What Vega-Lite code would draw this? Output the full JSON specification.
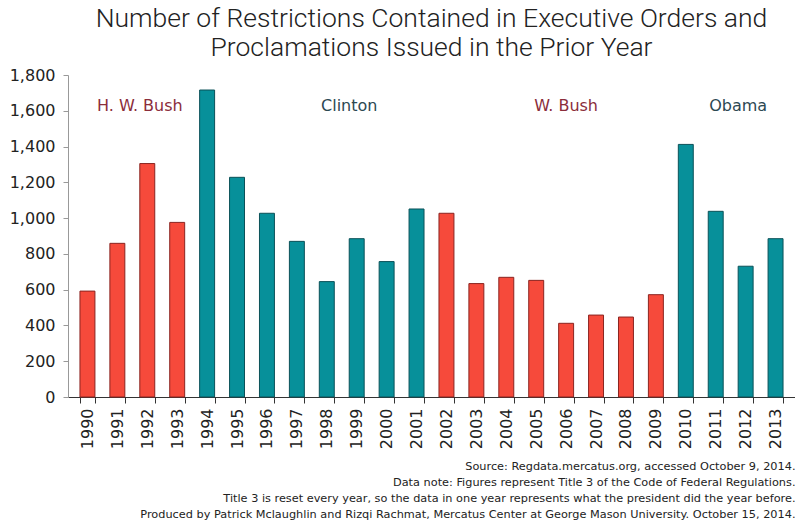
{
  "$schema": "https://vega.github.io/schema/vega-lite/v6.json",
  "width": 727,
  "height": 322,
  "autosize": {"type": "none"},
  "padding": {"left": 68, "top": 75, "right": 0, "bottom": 125},
  "background": "white",
  "title": {
    "text": ["Number of Restrictions Contained in Executive Orders and", "Proclamations Issued in the Prior Year"],
    "font": "Roboto",
    "fontWeight": 300,
    "fontSize": 26.5,
    "lineHeight": 29,
    "color": "#222222",
    "anchor": "middle",
    "offset": 6
  },
  "config": {
    "view": {"stroke": null},
    "axisX": {
      "labelAngle": -90,
      "labelFont": "DejaVu Sans",
      "labelFontSize": 16,
      "labelColor": "#222222",
      "labelPadding": 5,
      "labelOverlap": false,
      "tickBand": "extent",
      "tickSize": 6,
      "tickColor": "#333333",
      "domainColor": "#333333",
      "titleFont": "DejaVu Sans",
      "titleFontSize": 11.3,
      "titleFontWeight": "normal",
      "titleColor": "#222222",
      "titleLineHeight": 16,
      "titleAnchor": "end",
      "titleAlign": "right",
      "titlePadding": 12
    },
    "axisY": {
      "labelOverlap": false,
      "labelFlush": false,
      "grid": false,
      "labelFont": "DejaVu Sans",
      "labelFontSize": 16,
      "labelColor": "#222222",
      "labelPadding": 8,
      "tickSize": 5,
      "tickColor": "#999999",
      "domainColor": "#999999"
    }
  },
  "data": {
    "values": [
      {"year": "1990", "value": 592, "party": "R"},
      {"year": "1991", "value": 859, "party": "R"},
      {"year": "1992", "value": 1305, "party": "R"},
      {"year": "1993", "value": 976, "party": "R"},
      {"year": "1994", "value": 1716, "party": "D"},
      {"year": "1995", "value": 1228, "party": "D"},
      {"year": "1996", "value": 1027, "party": "D"},
      {"year": "1997", "value": 870, "party": "D"},
      {"year": "1998", "value": 645, "party": "D"},
      {"year": "1999", "value": 885, "party": "D"},
      {"year": "2000", "value": 757, "party": "D"},
      {"year": "2001", "value": 1051, "party": "D"},
      {"year": "2002", "value": 1027, "party": "R"},
      {"year": "2003", "value": 634, "party": "R"},
      {"year": "2004", "value": 669, "party": "R"},
      {"year": "2005", "value": 652, "party": "R"},
      {"year": "2006", "value": 412, "party": "R"},
      {"year": "2007", "value": 458, "party": "R"},
      {"year": "2008", "value": 447, "party": "R"},
      {"year": "2009", "value": 572, "party": "R"},
      {"year": "2010", "value": 1412, "party": "D"},
      {"year": "2011", "value": 1038, "party": "D"},
      {"year": "2012", "value": 731, "party": "D"},
      {"year": "2013", "value": 885, "party": "D"}
    ]
  },
  "encoding": {
    "y": {
      "field": "value",
      "type": "quantitative",
      "scale": {"domain": [0, 1800], "nice": false},
      "axis": {
        "values": [0, 200, 400, 600, 800, 1000, 1200, 1400, 1600, 1800],
        "format": ",d",
        "title": null
      }
    }
  },
  "layer": [
    {
      "mark": {"type": "bar", "strokeWidth": 1},
      "encoding": {
        "x": {
          "field": "year",
          "type": "ordinal",
          "scale": {"paddingInner": 0.5, "paddingOuter": 0.4},
          "axis": {
            "title": [
              "Source: Regdata.mercatus.org, accessed October 9, 2014.",
              "Data note: Figures represent Title 3 of the Code of Federal Regulations.",
              "Title 3 is reset every year, so the data in one year represents what the president did the year before.",
              "Produced by Patrick Mclaughlin and Rizqi Rachmat, Mercatus Center at George Mason University. October 15, 2014."
            ]
          }
        },
        "color": {
          "field": "party",
          "type": "nominal",
          "scale": {"domain": ["R", "D"], "range": ["#f64a3b", "#07909a"]},
          "legend": null
        },
        "stroke": {
          "field": "party",
          "type": "nominal",
          "scale": {"domain": ["R", "D"], "range": ["#8a2420", "#0b5158"]},
          "legend": null
        }
      }
    },
    {
      "data": {
        "values": [
          {"year": "1992", "label": "H. W. Bush", "value": 1625, "party": "R"},
          {"year": "1999", "label": "Clinton", "value": 1625, "party": "D"},
          {"year": "2012", "label": "Obama", "value": 1625, "party": "D"}
        ]
      },
      "mark": {"type": "text", "font": "DejaVu Sans", "fontSize": 16, "align": "center", "baseline": "middle"},
      "encoding": {
        "x": {"field": "year", "type": "ordinal", "bandPosition": 0},
        "text": {"field": "label"},
        "fill": {
          "field": "party",
          "type": "nominal",
          "scale": {"domain": ["R", "D"], "range": ["#8b2d3b", "#2c4852"]},
          "legend": null
        }
      }
    },
    {
      "data": {
        "values": [
          {"year": "2006", "label": "W. Bush", "value": 1625, "party": "R"}
        ]
      },
      "mark": {"type": "text", "font": "DejaVu Sans", "fontSize": 16, "align": "center", "baseline": "middle"},
      "encoding": {
        "x": {"field": "year", "type": "ordinal", "bandPosition": 0.5},
        "text": {"field": "label"},
        "fill": {
          "field": "party",
          "type": "nominal",
          "scale": {"domain": ["R", "D"], "range": ["#8b2d3b", "#2c4852"]},
          "legend": null
        }
      }
    }
  ]
}
